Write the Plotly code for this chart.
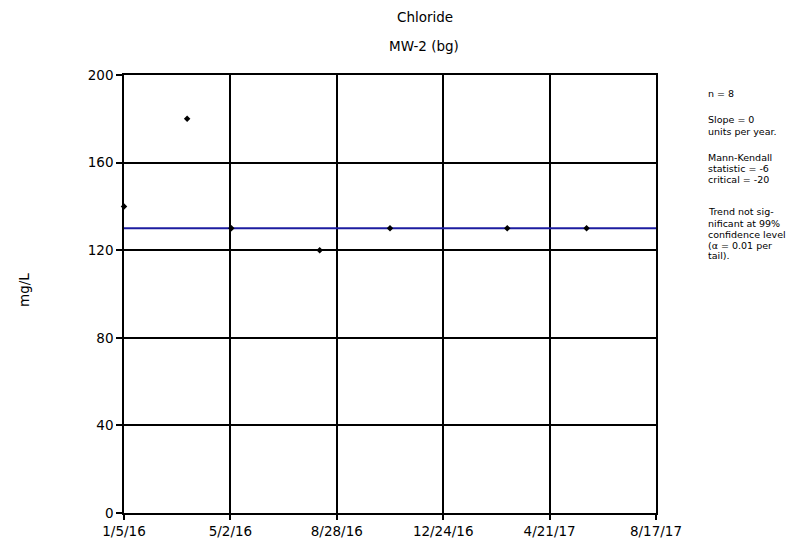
import plotly.graph_objects as go

# Data
sample_dates = ["2016-01-05", "2016-03-15", "2016-05-03", "2016-08-09",
                "2016-10-26", "2017-03-05", "2017-06-01"]
chloride_mg_l = [140, 180, 130, 120, 130, 130, 130]

trend_dates = ["2016-01-05", "2017-08-18"]
trend_values = [130, 130]

x_tick_vals = ["2016-01-05", "2016-05-02", "2016-08-28", "2016-12-24",
               "2017-04-21", "2017-08-17"]
x_tick_text = ["1/5/16", "5/2/16", "8/28/16", "12/24/16", "4/21/17", "8/17/17"]
y_tick_vals = [0, 40, 80, 120, 160, 200]

stats_lines = ["n = 8", "Slope = 0", "units per year.", "Mann-Kendall",
               "statistic = -6", "critical = -20", "Trend not sig-",
               "nificant at 99%", "confidence level", "(α = 0.01 per", "tail)."]
stats_line_px = [93, 120, 131, 157, 168, 179, 212, 223, 234, 245, 256]

FONT = "DejaVu Sans, Arial, sans-serif"
L, R, T, B = 124, 656, 75, 513
W, H = R - L, B - T

fig = go.Figure()
fig.add_trace(go.Scatter(
    x=trend_dates, y=trend_values, mode="lines",
    line=dict(color="#1c1ca0", width=2), showlegend=False, cliponaxis=False,
))
fig.add_trace(go.Scatter(
    x=sample_dates, y=chloride_mg_l, mode="markers",
    marker=dict(symbol="diamond", size=5, color="black"),
    showlegend=False, cliponaxis=False,
))

fig.update_layout(
    width=796, height=544,
    margin=dict(l=L, r=796 - R, t=T, b=544 - B),
    paper_bgcolor="white", plot_bgcolor="white",
    font=dict(family=FONT, size=14, color="black"),
    xaxis=dict(
        type="date", range=["2016-01-05", "2017-08-17"], automargin=False,
        tickmode="array", tickvals=x_tick_vals, ticktext=x_tick_text,
        showgrid=True, gridcolor="black", gridwidth=1.6,
        showline=True, linecolor="black", linewidth=1.6, mirror=True,
        ticks="outside", ticklen=5, tickcolor="black", tickwidth=1.5,
        tickfont=dict(size=13.5, family=FONT), zeroline=False,
    ),
    yaxis=dict(
        range=[0, 200], tickmode="array", tickvals=y_tick_vals, automargin=False,
        showgrid=True, gridcolor="black", gridwidth=1.6,
        showline=True, linecolor="black", linewidth=1.6, mirror=True,
        ticks="outside", ticklen=6, tickcolor="black", tickwidth=1.5,
        tickfont=dict(size=13.5, family=FONT), zeroline=False,
    ),
)

def px_x(x):
    return (x - L) / W

def px_y(y):
    return (B - y) / H

fig.add_annotation(text="Chloride", xref="paper", yref="paper",
                   x=px_x(425), y=px_y(17), xanchor="center", yanchor="middle",
                   showarrow=False, font=dict(size=13.5, family=FONT))
fig.add_annotation(text="MW-2 (bg)", xref="paper", yref="paper",
                   x=px_x(424), y=px_y(46), xanchor="center", yanchor="middle",
                   showarrow=False, font=dict(size=13.5, family=FONT))
fig.add_annotation(text="mg/L", xref="paper", yref="paper",
                   x=px_x(24), y=px_y(290), xanchor="center", yanchor="middle",
                   textangle=-90, showarrow=False, font=dict(size=13.5, family=FONT))

for txt, ypx in zip(stats_lines, stats_line_px):
    fig.add_annotation(text=txt, xref="paper", yref="paper",
                       x=px_x(706), y=px_y(ypx), xanchor="left", yanchor="middle",
                       align="left", showarrow=False,
                       font=dict(size=9.5, family=FONT))

fig.write_html(
    "out.html",
    config={"displayModeBar": False},
    post_script="document.body.style.margin='0';document.body.style.overflow='hidden';",
)
